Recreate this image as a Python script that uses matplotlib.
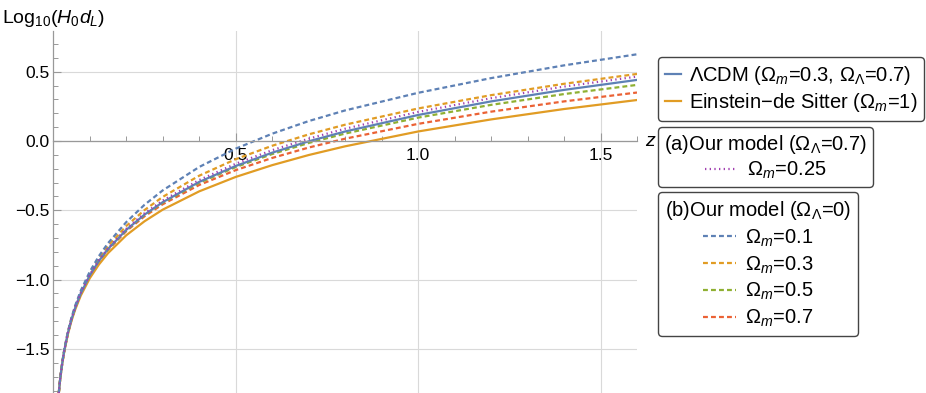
import matplotlib.pyplot as plt
from matplotlib.lines import Line2D
from matplotlib.ticker import MultipleLocator

plt.rcParams['font.family'] = ['Liberation Sans', 'DejaVu Sans']
plt.rcParams['mathtext.fontset'] = 'custom'
plt.rcParams['mathtext.rm'] = 'Liberation Sans'
plt.rcParams['mathtext.it'] = 'Liberation Sans:italic'
plt.rcParams['mathtext.bf'] = 'Liberation Sans:bold'

# redshift samples and Log10(H0 dL)
z = [0.015, 0.0175, 0.02, 0.025, 0.03, 0.04, 0.05, 0.06, 0.075, 0.1, 0.125, 0.15, 0.2, 0.25, 0.3, 0.4,
     0.5, 0.6, 0.7, 0.8, 1.0, 1.2, 1.4, 1.6]
lcdm = [-1.820, -1.751, -1.692, -1.594, -1.513, -1.385, -1.285, -1.203, -1.101, -0.969, -0.865, -0.779,
        -0.641, -0.531, -0.441, -0.295, -0.180, -0.084, -0.002, 0.069, 0.188, 0.286, 0.369, 0.441]
eds = [-1.822, -1.755, -1.697, -1.599, -1.520, -1.394, -1.296, -1.216, -1.117, -0.990, -0.891, -0.809,
       -0.680, -0.579, -0.495, -0.363, -0.259, -0.174, -0.101, -0.038, 0.069, 0.156, 0.231, 0.296]
a_om025 = [-1.820, -1.751, -1.691, -1.593, -1.512, -1.383, -1.283, -1.201, -1.098, -0.965, -0.860, -0.773,
           -0.633, -0.521, -0.429, -0.281, -0.164, -0.066, 0.017, 0.089, 0.210, 0.309, 0.393, 0.465]
b_om01 = [-1.816, -1.747, -1.687, -1.588, -1.505, -1.374, -1.272, -1.187, -1.081, -0.942, -0.830, -0.737,
          -0.585, -0.460, -0.356, -0.187, -0.055, 0.053, 0.144, 0.221, 0.348, 0.454, 0.546, 0.626]
b_om03 = [-1.819, -1.750, -1.690, -1.592, -1.510, -1.380, -1.279, -1.196, -1.091, -0.955, -0.847, -0.758,
          -0.613, -0.498, -0.403, -0.250, -0.131, -0.034, 0.048, 0.118, 0.235, 0.331, 0.413, 0.484]
b_om05 = [-1.820, -1.751, -1.692, -1.594, -1.513, -1.385, -1.285, -1.203, -1.102, -0.970, -0.866, -0.781,
          -0.644, -0.534, -0.445, -0.301, -0.188, -0.094, -0.014, 0.054, 0.169, 0.261, 0.339, 0.405]
b_om07 = [-1.820, -1.751, -1.693, -1.595, -1.514, -1.387, -1.287, -1.205, -1.104, -0.973, -0.870, -0.785,
          -0.650, -0.543, -0.456, -0.317, -0.210, -0.122, -0.047, 0.017, 0.124, 0.212, 0.286, 0.350]

BLUE = '#5E81B5'
ORANGE = '#E19C24'
GREEN = '#8FB032'
RED = '#EB6235'
PURPLE = '#A13FB0'
LW = 1.6
DASH = (0, (2.2, 1.4))
DOT = (0, (0.6, 1.5))

fig = plt.figure(figsize=(9.26, 3.93), dpi=100)
ax = fig.add_axes([53.3 / 926, 0, (637 - 53.3) / 926, 362 / 393])

ax.plot(z, b_om07, color=RED, lw=LW, ls=DASH)
ax.plot(z, b_om05, color=GREEN, lw=LW, ls=DASH)
ax.plot(z, b_om03, color=ORANGE, lw=LW, ls=DASH)
ax.plot(z, b_om01, color=BLUE, lw=LW, ls=DASH)
ax.plot(z, eds, color=ORANGE, lw=LW)
ax.plot(z, lcdm, color=BLUE, lw=LW)
ax.plot(z, a_om025, color=PURPLE, lw=LW, ls=DOT)

ax.set_xlim(0, 1.6)
ax.set_ylim(-1.818, 0.794)
ax.spines['bottom'].set_position(('data', 0))
ax.spines['top'].set_visible(False)
ax.spines['right'].set_visible(False)
for s in ['left', 'bottom']:
    ax.spines[s].set_color('#999999')
    ax.spines[s].set_linewidth(0.9)

ax.set_xticks([0.5, 1.0, 1.5])
ax.set_xticklabels(['0.5', '1.0', '1.5'])
ax.set_yticks([-1.5, -1.0, -0.5, 0.0, 0.5])
ax.set_yticklabels(['\u22121.5', '\u22121.0', '\u22120.5', '0.0', '0.5'])
ax.xaxis.set_minor_locator(MultipleLocator(0.1))
ax.yaxis.set_minor_locator(MultipleLocator(0.1))
ax.tick_params(which='major', direction='in', length=6, width=0.8, color='#999999', labelsize=12.5)
ax.tick_params(which='minor', direction='in', length=3.5, width=0.7, color='#999999')
ax.tick_params(axis='x', pad=5)
ax.tick_params(axis='y', pad=3)
ax.grid(True, which='major', color='#d9d9d9', lw=0.8)
ax.set_axisbelow(True)

ax.text(1.636, 0, 'z', fontsize=14, fontstyle='italic', va='center', ha='center', clip_on=False)
fig.text(0.002, 0.954, r'Log$_{10}$($H_0d_L$)', fontsize=14, va='center', ha='left')

FS = 14.5
frame = dict(fancybox=True, framealpha=1, edgecolor='#444444', borderaxespad=0, fontsize=FS,
             loc='upper left')

h1 = [Line2D([], [], color=BLUE, lw=LW), Line2D([], [], color=ORANGE, lw=LW)]
l1 = [r'ΛCDM ($\Omega_m$=0.3, $\Omega_\Lambda$=0.7)', 'Einstein\u2212de Sitter ($\\Omega_m$=1)']
leg1 = fig.legend(h1, l1, bbox_to_anchor=(658 / 926, 1 - 57 / 393), labelspacing=0.22, borderpad=0.34,
                  handlelength=0.8, handletextpad=0.4, **frame)

h2 = [Line2D([], [], color=PURPLE, lw=LW, ls=DOT)]
leg2 = fig.legend(h2, [r'$\Omega_m$=0.25'], bbox_to_anchor=(658 / 926, 1 - 127 / 393),
                  title=r'(a)Our model ($\Omega_\Lambda$=0.7)', title_fontsize=FS,
                  labelspacing=0.2, borderpad=0.3, handlelength=1.6, handletextpad=0.45, **frame)

h3 = [Line2D([], [], color=c, lw=LW, ls=DASH) for c in [BLUE, ORANGE, GREEN, RED]]
l3 = [r'$\Omega_m$=0.1', r'$\Omega_m$=0.3', r'$\Omega_m$=0.5', r'$\Omega_m$=0.7']
leg3 = fig.legend(h3, l3, bbox_to_anchor=(658 / 926, 1 - 192 / 393),
                  title=r'(b)Our model ($\Omega_\Lambda$=0)', title_fontsize=FS,
                  labelspacing=0.27, borderpad=0.35, handlelength=1.6, handletextpad=0.45, **frame)

plt.savefig('out.png', dpi=100)
